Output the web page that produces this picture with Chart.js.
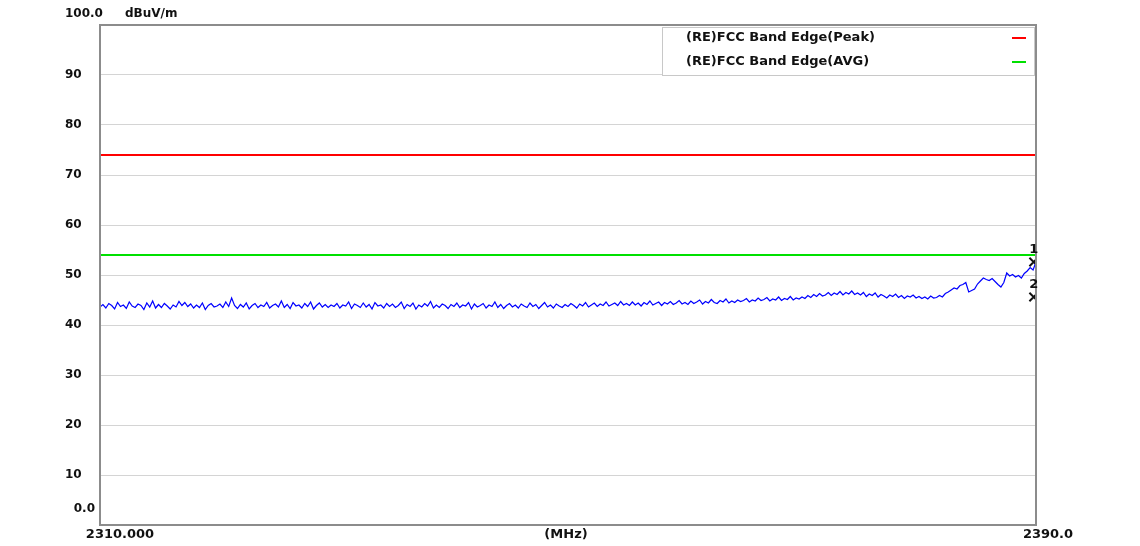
<!DOCTYPE html>
<html>
<head>
<meta charset="utf-8">
<script src="https://cdn.jsdelivr.net/npm/chart.js@4.4.0/dist/chart.umd.min.js"></script>
<style>
  html, body { margin: 0; padding: 0; background: #fff; overflow: hidden; }
  canvas { display: block; }
</style>
</head>
<body>
<canvas id="grafico" width="1140" height="546"></canvas>
<script>
// eixo de frequência (MHz)
var freqInicio = 2310;
var freqFim = 2390;
var freqPasso = 0.25;

// eixo Y (dBuV/m)
var yTicks = [0, 10, 20, 30, 40, 50, 60, 70, 80, 90, 100];

// limites FCC
var limitePeak = 74;
var limiteAvg = 54;

// traço medido, um valor a cada 0.25 MHz
var traco = [
  43.6, 44.1, 43.4, 44.3, 43.9, 43.2, 44.5, 43.7, 44.0, 43.3, 44.6, 43.8, 43.5, 44.2, 43.9, 43.1, 44.4, 43.6, 44.8, 43.4,
  44.1, 43.5, 44.3, 43.8, 43.2, 44.0, 43.6, 44.7, 43.9, 44.5, 43.7, 44.2, 43.4, 44.0, 43.5, 44.4, 43.1, 43.9, 44.3, 43.6,
  43.8, 44.2, 43.5, 44.6, 43.7, 45.4, 43.9, 43.3, 44.1, 43.6, 44.4, 43.2, 43.9, 44.3, 43.5, 44.0, 43.7, 44.5, 43.4, 43.9,
  44.2, 43.6, 44.8, 43.5, 44.1, 43.3, 44.5, 43.8, 44.0, 43.4, 44.3, 43.7, 44.6, 43.2, 43.9, 44.4, 43.6, 44.1, 43.5, 44.0,
  43.7, 44.3, 43.4, 44.0, 43.8, 44.6, 43.3, 44.2, 43.9, 43.5, 44.4, 43.6, 44.1, 43.2, 44.5, 43.8, 44.0, 43.4, 44.3, 43.7,
  44.2, 43.5, 43.9, 44.6, 43.3, 44.1, 43.7, 44.4, 43.2, 44.0, 43.6, 44.3, 43.8, 44.7, 43.4, 44.0, 43.5, 44.2, 43.9, 43.3,
  44.1, 43.7, 44.4, 43.5, 44.0, 43.8, 44.5, 43.2, 44.2, 43.6, 43.9, 44.3, 43.4, 44.0, 43.7, 44.6, 43.5, 44.1, 43.3, 43.9,
  44.3, 43.6, 44.0, 43.4, 44.2, 43.8, 43.5, 44.4, 43.7, 44.1, 43.3, 43.9, 44.5, 43.6, 44.0, 43.4, 44.2, 43.8, 43.5, 44.1,
  43.7, 44.3, 43.9, 43.4, 44.2, 43.8, 44.5, 43.6, 44.0, 44.4, 43.7, 44.2, 43.9, 44.6, 43.8, 44.1, 44.4, 43.9, 44.7, 44.0,
  44.3, 43.9, 44.6, 44.0, 44.4, 43.8, 44.5, 44.1, 44.8, 44.0, 44.3, 44.6, 43.9, 44.5, 44.2, 44.7, 44.1, 44.4, 44.9, 44.2,
  44.5, 44.1, 44.8, 44.3, 44.6, 45.0, 44.2, 44.7, 44.4, 45.1, 44.5, 44.3, 44.9, 44.6, 45.2, 44.4, 44.8, 44.5, 45.0, 44.7,
  44.9, 45.3, 44.6, 45.0, 44.8, 45.4, 44.9, 45.1, 45.5, 44.8, 45.2, 45.0, 45.6, 44.9, 45.3, 45.1, 45.7, 45.0, 45.4, 45.2,
  45.6, 45.3, 45.9, 45.5, 46.1, 45.7, 46.3, 45.8, 46.0, 46.5, 45.9, 46.4, 46.1, 46.7, 46.0, 46.5, 46.2, 46.8, 46.1, 46.4,
  46.0, 46.5, 45.7, 46.2, 45.9, 46.4, 45.6, 46.1, 45.8, 45.4, 46.0, 45.7, 46.2, 45.5, 45.9, 45.3, 45.8, 45.6, 46.0, 45.4,
  45.7, 45.3, 45.6, 45.2, 45.8, 45.4, 45.5, 45.9, 45.6, 46.3, 46.6, 47.0, 47.4, 47.2, 47.9, 48.1, 48.5, 46.6, 46.9, 47.2,
  48.2, 48.8, 49.4, 49.1, 48.9, 49.3, 48.7, 48.1, 47.6, 48.5, 50.4, 49.8, 50.1, 49.6, 49.9, 49.4, 50.3, 50.8, 51.5, 51.0,
  52.6
];

// marcadores 1 e 2
var marcadoresFreq = [2389.8, 2389.8];
var marcadoresValor = [52.6, 45.6];
var marcadoresNome = ['1', '2'];

var legendaNomes = ['(RE)FCC Band Edge(Peak)', '(RE)FCC Band Edge(AVG)'];

var fonteY = 'bold 12px "DejaVu Sans", sans-serif';
var fonte = 'bold 13px "DejaVu Sans", sans-serif';

document.addEventListener('DOMContentLoaded', function() {
    var pontosTraco = traco.map(function(v, i) {
        return { x: freqInicio + i * freqPasso, y: v };
    });
    var pontosMarcadores = marcadoresFreq.map(function(f, i) {
        return { x: f, y: marcadoresValor[i] };
    });

    // desenha moldura, rótulos, legenda e números dos marcadores
    var decoracao = {
        id: 'decoracao',
        afterDraw: function(chart) {
            var ctx = chart.ctx;
            var area = chart.chartArea;
            var sy = chart.scales.y;
            var sx = chart.scales.x;
            ctx.save();

            // moldura
            ctx.strokeStyle = '#8c8c8c';
            ctx.lineWidth = 2;
            ctx.strokeRect(area.left, area.top, area.right - area.left, area.bottom - area.top);

            ctx.fillStyle = '#111';
            ctx.font = fonteY;
            ctx.textBaseline = 'middle';

            // rótulos do eixo Y
            yTicks.forEach(function(v) {
                var y = sy.getPixelForValue(v);
                if (v === 100) {
                    ctx.textAlign = 'left';
                    ctx.fillText('100.0', 65, y - 11);
                } else if (v === 0) {
                    ctx.textAlign = 'right';
                    ctx.fillText('0.0', 95, y - 16);
                } else {
                    ctx.textAlign = 'left';
                    ctx.fillText(String(v), 65, y);
                }
            });
            ctx.textAlign = 'left';
            ctx.fillText('dBuV/m', 125, area.top - 11);

            // rótulos do eixo X
            ctx.font = fonte;
            var yx = area.bottom + 10;
            ctx.textAlign = 'center';
            ctx.fillText(freqInicio.toFixed(3), sx.getPixelForValue(freqInicio) + 20, yx);
            ctx.fillText('(MHz)', (area.left + area.right) / 2 - 2, yx);
            ctx.fillText(freqFim.toFixed(1), sx.getPixelForValue(freqFim) + 12, yx);

            // legenda
            var lx = 662, ly = 27, lw = area.right - 2 - lx, lh = 48;
            ctx.fillStyle = '#fff';
            ctx.fillRect(lx, ly, lw, lh);
            ctx.strokeStyle = '#c8c8c8';
            ctx.lineWidth = 1;
            ctx.strokeRect(lx + 0.5, ly + 0.5, lw, lh);
            [chart.data.datasets[1], chart.data.datasets[2]].forEach(function(ds, i) {
                var ty = ly + 11 + i * 24;
                ctx.fillStyle = '#111';
                ctx.textAlign = 'left';
                ctx.fillText(legendaNomes[i], 686, ty);
                ctx.strokeStyle = ds.borderColor;
                ctx.lineWidth = 2;
                ctx.beginPath();
                ctx.moveTo(1012, ty);
                ctx.lineTo(1026, ty);
                ctx.stroke();
            });

            // números dos marcadores
            ctx.fillStyle = '#111';
            ctx.textAlign = 'center';
            pontosMarcadores.forEach(function(p, i) {
                ctx.fillText(marcadoresNome[i], sx.getPixelForValue(p.x), sy.getPixelForValue(p.y) - 12);
            });
            ctx.restore();
        }
    };

    var ctxGrafico = document.getElementById('grafico').getContext('2d');
    new Chart(ctxGrafico, {
        type: 'line',
        data: {
            datasets: [{
                label: 'Trace',
                data: pontosTraco,
                borderColor: '#0000ff',
                borderWidth: 1.2,
                pointRadius: 0,
                tension: 0
            }, {
                label: legendaNomes[0],
                data: [{ x: freqInicio, y: limitePeak }, { x: freqFim, y: limitePeak }],
                borderColor: '#ff0000',
                borderWidth: 2,
                pointRadius: 0
            }, {
                label: legendaNomes[1],
                data: [{ x: freqInicio, y: limiteAvg }, { x: freqFim, y: limiteAvg }],
                borderColor: '#00e000',
                borderWidth: 2,
                pointRadius: 0
            }, {
                label: 'Marcadores',
                data: pontosMarcadores,
                showLine: false,
                pointStyle: 'crossRot',
                pointRadius: 6,
                borderColor: '#111',
                borderWidth: 2
            }]
        },
        options: {
            responsive: false,
            animation: false,
            maintainAspectRatio: false,
            layout: { padding: { left: 100, top: 25, right: 104, bottom: 21 } },
            plugins: { legend: { display: false }, tooltip: { enabled: false } },
            scales: {
                x: {
                    type: 'linear',
                    min: freqInicio,
                    max: freqFim,
                    ticks: { display: false },
                    grid: { display: false, drawTicks: false },
                    border: { display: false }
                },
                y: {
                    min: 0,
                    max: 100,
                    ticks: { display: false, stepSize: 10 },
                    grid: { color: '#d4d4d4', lineWidth: 1, drawTicks: false },
                    border: { display: false }
                }
            }
        },
        plugins: [decoracao]
    });
});
</script>
</body>
</html>
